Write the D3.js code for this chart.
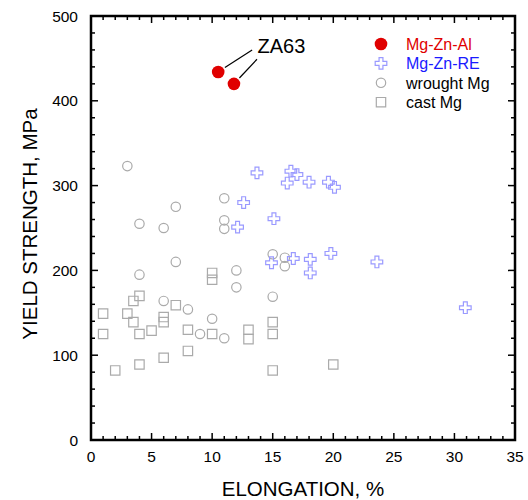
<!DOCTYPE html>
<html>
<head>
<meta charset="utf-8">
<script src="https://cdn.jsdelivr.net/npm/d3@7"></script>
<style>
  html, body { margin: 0; padding: 0; background: #fff; }
  svg { display: block; font-family: "Liberation Sans", Arial, Helvetica, sans-serif; }
</style>
</head>
<body>
<svg id="chart" width="528" height="500"></svg>
<script>
// Elongation (%) and yield strength (MPa) for each alloy group
const mgZnAlElong = [10.5, 11.8];
const mgZnAlYield = [434, 420];

const mgZnREElong = [12.1, 12.6, 13.7, 14.9, 15.1, 16.2, 16.5, 16.7, 17.0, 18.0, 18.1, 18.1, 19.6, 19.8, 20.1, 23.6, 30.9];
const mgZnREYield = [251, 280, 315, 209, 261, 303, 317, 214, 313, 304, 213, 197, 304, 220, 298, 210, 156];

const wroughtElong = [3, 4, 4, 6, 6, 7, 7, 8, 9, 10, 11, 11, 11, 11, 12, 12, 15, 15, 16, 16];
const wroughtYield = [323, 255, 195, 250, 164, 275, 210, 154, 125, 143, 285, 259, 249, 120, 200, 180, 219, 169, 215, 205];

const castElong = [1, 1, 2, 3, 3.5, 3.5, 4, 4, 4, 5, 6, 6, 6, 7, 8, 8, 10, 10, 10, 13, 13, 15, 15, 15, 20];
const castYield = [149, 125, 82, 149, 164, 139, 170, 125, 89, 129, 145, 139, 97, 159, 130, 105, 197, 189, 125, 130, 119, 139, 125, 82, 89];

const xTickValues = [0, 5, 10, 15, 20, 25, 30, 35];
const yTickValues = [0, 100, 200, 300, 400, 500];

const legendLabels = ["Mg-Zn-Al", "Mg-Zn-RE", "wrought Mg", "cast Mg"];
const annotationText = "ZA63";

const zip = (xs, ys) => xs.map((x, i) => ({ x, y: ys[i] }));

const svg = d3.select("#chart");
const plotLeft = 91, plotRight = 515, plotTop = 16, plotBottom = 440;

const x = d3.scaleLinear().domain([0, 35]).range([plotLeft, plotRight]);
const y = d3.scaleLinear().domain([0, 500]).range([plotBottom, plotTop]);

const grey = "#aaaaaa";
const crossColor = "#9a9aff";
const red = "#e00000";

// Tick marks pointing inward on all four sides
const ticks = svg.append("g").attr("stroke", "#000").attr("stroke-width", 1.5);
d3.range(0, 36, 1).forEach(v => {
  const len = v % 5 === 0 ? 7 : 4;
  ticks.append("line").attr("x1", x(v)).attr("x2", x(v)).attr("y1", plotBottom).attr("y2", plotBottom - len);
  ticks.append("line").attr("x1", x(v)).attr("x2", x(v)).attr("y1", plotTop).attr("y2", plotTop + len);
});
d3.range(0, 501, 20).forEach(v => {
  const len = v % 100 === 0 ? 7 : 4;
  ticks.append("line").attr("y1", y(v)).attr("y2", y(v)).attr("x1", plotLeft).attr("x2", plotLeft + len);
  ticks.append("line").attr("y1", y(v)).attr("y2", y(v)).attr("x1", plotRight).attr("x2", plotRight - len);
});

// Frame
svg.append("rect")
  .attr("x", plotLeft).attr("y", plotTop)
  .attr("width", plotRight - plotLeft).attr("height", plotBottom - plotTop)
  .attr("fill", "none").attr("stroke", "#000").attr("stroke-width", 2.5);

// Tick labels
svg.append("g").selectAll("text").data(xTickValues).join("text")
  .attr("x", d => x(d)).attr("y", plotBottom + 22)
  .attr("text-anchor", "middle").attr("font-size", 15.5).text(d => d);
svg.append("g").selectAll("text").data(yTickValues).join("text")
  .attr("x", plotLeft - 13).attr("y", d => y(d)).attr("dy", "0.36em")
  .attr("text-anchor", "end").attr("font-size", 15.5).text(d => d);

// Axis titles
svg.append("text")
  .attr("x", (plotLeft + plotRight) / 2).attr("y", 496)
  .attr("text-anchor", "middle").attr("font-size", 20.5)
  .text("ELONGATION, %");
svg.append("text")
  .attr("transform", `translate(37, ${(plotTop + plotBottom) / 2 - 4}) rotate(-90)`)
  .attr("text-anchor", "middle").attr("font-size", 20.5)
  .text("YIELD STRENGTH, MPa");

// Symbol generators
const crossPath = d3.symbol().type(d3.symbolCross).size(75);
const squarePath = d3.symbol().type(d3.symbolSquare).size(88);

const plot = svg.append("g");

plot.append("g").selectAll("path").data(zip(castElong, castYield)).join("path")
  .attr("transform", d => `translate(${x(d.x)},${y(d.y)})`)
  .attr("d", squarePath())
  .attr("fill", "none").attr("stroke", grey).attr("stroke-width", 1.2);

plot.append("g").selectAll("circle").data(zip(wroughtElong, wroughtYield)).join("circle")
  .attr("cx", d => x(d.x)).attr("cy", d => y(d.y)).attr("r", 4.7)
  .attr("fill", "none").attr("stroke", grey).attr("stroke-width", 1.2);

plot.append("g").selectAll("path").data(zip(mgZnREElong, mgZnREYield)).join("path")
  .attr("transform", d => `translate(${x(d.x)},${y(d.y)})`)
  .attr("d", crossPath())
  .attr("fill", "none").attr("stroke", crossColor).attr("stroke-width", 1.2);

const za = zip(mgZnAlElong, mgZnAlYield);
plot.append("g").selectAll("circle").data(za).join("circle")
  .attr("cx", d => x(d.x)).attr("cy", d => y(d.y)).attr("r", 6.3)
  .attr("fill", red);

// ZA63 label with leader lines
const labelAnchor = { x: 13.75, y: 456 };
const leaderEnds = [{ x: 13.3, y: 460 }, { x: 13.7, y: 449 }];
za.forEach((d, i) => {
  const x0 = x(d.x), y0 = y(d.y);
  const x1 = x(leaderEnds[i].x), y1 = y(leaderEnds[i].y);
  const len = Math.hypot(x1 - x0, y1 - y0);
  const s = 8 / len;
  plot.append("line")
    .attr("x1", x0 + (x1 - x0) * s).attr("y1", y0 + (y1 - y0) * s)
    .attr("x2", x1).attr("y2", y1)
    .attr("stroke", "#000").attr("stroke-width", 1.2);
});
plot.append("text")
  .attr("x", x(labelAnchor.x)).attr("y", y(labelAnchor.y))
  .attr("font-size", 20).text(annotationText);

// Legend
const legend = svg.append("g").attr("transform", "translate(381, 44)");
const rowGap = 19.4;
const legendColors = [red, "#1a1aff", "#000", "#000"];
legendLabels.forEach((label, i) => {
  const row = legend.append("g").attr("transform", `translate(0, ${i * rowGap})`);
  if (i === 0) row.append("circle").attr("r", 6.3).attr("fill", red);
  if (i === 1) row.append("path").attr("d", crossPath()).attr("fill", "none").attr("stroke", crossColor).attr("stroke-width", 1.2);
  if (i === 2) row.append("circle").attr("r", 4.7).attr("fill", "none").attr("stroke", grey).attr("stroke-width", 1.2);
  if (i === 3) row.append("path").attr("d", squarePath()).attr("fill", "none").attr("stroke", grey).attr("stroke-width", 1.2);
  row.append("text")
    .attr("x", 25).attr("dy", "0.36em")
    .attr("font-size", 16).attr("fill", legendColors[i])
    .text(label);
});
</script>
</body>
</html>
